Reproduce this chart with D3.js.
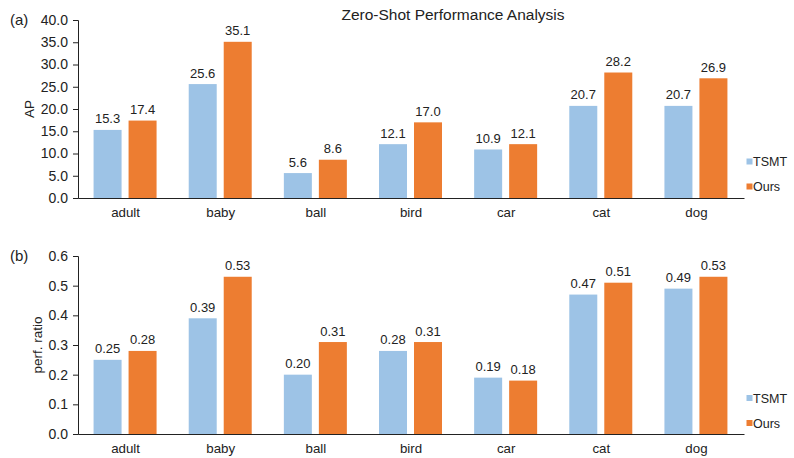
<!DOCTYPE html>
<html><head><meta charset="utf-8">
<script src="https://cdn.jsdelivr.net/npm/d3@7"></script>
<style>body{margin:0;background:#fff}svg{display:block;font-family:"Liberation Sans",Arial,sans-serif}</style>
</head><body>
<script>
const categories = ["adult","baby","ball","bird","car","cat","dog"];
const seriesNames = ["TSMT","Ours"];
const apTSMT = [15.3,25.6,5.6,12.1,10.9,20.7,20.7];
const apOurs = [17.4,35.1,8.6,17.0,12.1,28.2,26.9];
const ratioTSMT = [0.25,0.39,0.20,0.28,0.19,0.47,0.49];
const ratioOurs = [0.28,0.53,0.31,0.31,0.18,0.51,0.53];
const apTicks = [0,5,10,15,20,25,30,35,40];
const ratioTicks = [0,0.1,0.2,0.3,0.4,0.5,0.6];
const colors = ["#9DC3E6","#ED7D31"];

const W=794,H=458;
const svg=d3.select("body").append("svg").attr("width",W).attr("height",H);

svg.append("text").attr("x",453).attr("y",20).attr("text-anchor","middle")
  .attr("font-size",15.5).attr("fill","#222").text("Zero-Shot Performance Analysis");

function panel(opts){
  const {top,bottom,domain,ticks,fmt,valFmt,s1,s2,ylabel,ylabelX,tag,tagY,legendY}=opts;
  const left=78,right=744;
  const x0=d3.scaleBand().domain(categories).range([left,right]);
  const bw=x0.bandwidth();
  const x1=d3.scaleBand().domain(seriesNames).range([bw/2-32,bw/2+31]).paddingInner(0.2);
  const y=d3.scaleLinear().domain(domain).range([bottom,top]);
  const g=svg.append("g");
  const data=categories.map((c,i)=>({c,vals:[s1[i],s2[i]]}));
  const grp=g.selectAll("g.cat").data(data).join("g").attr("transform",d=>`translate(${x0(d.c)},0)`);
  grp.selectAll("rect").data(d=>d.vals.map((v,j)=>({v,s:seriesNames[j],j}))).join("rect")
    .attr("x",d=>x1(d.s)).attr("width",x1.bandwidth())
    .attr("y",d=>y(d.v)).attr("height",d=>bottom-y(d.v)).attr("fill",d=>colors[d.j]);
  grp.selectAll("text.val").data(d=>d.vals.map((v,j)=>({v,s:seriesNames[j],j}))).join("text")
    .attr("class","val").attr("x",d=>x1(d.s)+x1.bandwidth()/2).attr("y",d=>y(d.v)-6.5)
    .attr("text-anchor","middle").attr("font-size",13).attr("fill","#222").text(d=>valFmt(d.v));
  // y axis
  const ya=g.append("g").attr("transform",`translate(${left},0)`)
    .call(d3.axisLeft(y).tickValues(ticks).tickFormat(fmt).tickSizeOuter(0).tickSize(5).tickPadding(5));
  ya.select(".domain").attr("stroke","#222");
  ya.selectAll(".tick line").attr("stroke","#222");
  ya.selectAll("text").attr("font-size",14).attr("fill","#222").attr("font-family","Liberation Sans, Arial, sans-serif");
  // x axis
  const xa=g.append("g").attr("transform",`translate(0,${bottom})`)
    .call(d3.axisBottom(x0).tickSize(0).tickPadding(10).tickSizeOuter(0));
  xa.select(".domain").attr("stroke","#222");
  xa.selectAll("text").attr("font-size",13.3).attr("fill","#222").attr("font-family","Liberation Sans, Arial, sans-serif");
  // y label
  g.append("text").attr("transform",`translate(${ylabelX},${(top+bottom)/2}) rotate(-90)`)
    .attr("text-anchor","middle").attr("font-size",13.5).attr("fill","#222").text(ylabel);
  g.append("text").attr("x",10).attr("y",tagY).attr("font-size",15).attr("fill","#222").text(tag);
  // legend
  seriesNames.forEach((s,j)=>{
    const ly=legendY+j*25;
    g.append("rect").attr("x",746.5).attr("y",ly-3).attr("width",6).attr("height",6).attr("fill",colors[j]);
    g.append("text").attr("x",753).attr("y",ly).attr("dy","0.36em").attr("font-size",12.5).attr("fill","#222").text(s);
  });
}

panel({top:20,bottom:198,domain:[0,40],ticks:apTicks,fmt:d3.format(".1f"),valFmt:d3.format(".1f"),
  s1:apTSMT,s2:apOurs,ylabel:"AP",ylabelX:34,tag:"(a)",tagY:25,legendY:161.5});
panel({top:256,bottom:434,domain:[0,0.6],ticks:ratioTicks,fmt:d3.format(".1f"),valFmt:d3.format(".2f"),
  s1:ratioTSMT,s2:ratioOurs,ylabel:"perf. ratio",ylabelX:42,tag:"(b)",tagY:261,legendY:398});
</script>
</body></html>
